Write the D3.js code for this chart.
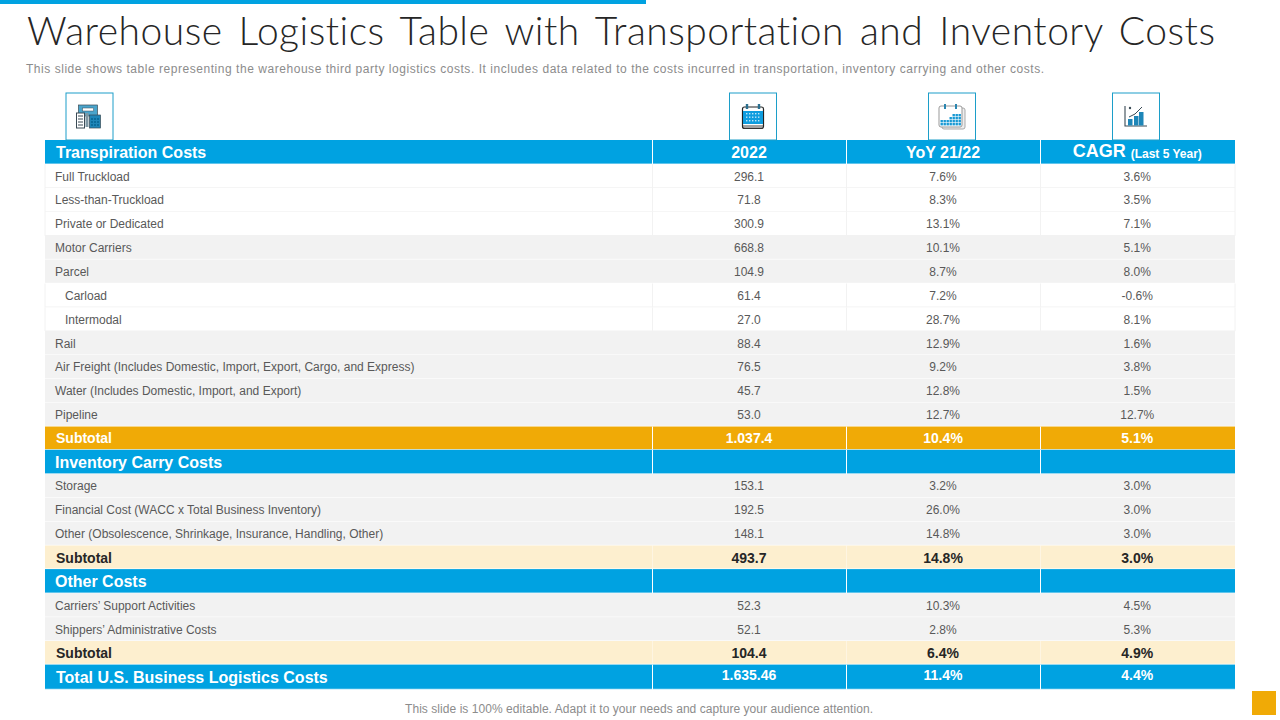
<!DOCTYPE html>
<html>
<head>
<meta charset="utf-8">
<script src="https://cdnjs.cloudflare.com/ajax/libs/d3/7.8.5/d3.min.js"></script>
<style>
  html, body { margin: 0; padding: 0; background: #fff; }
  svg { display: block; }
  text { font-family: "Liberation Sans", Arial, sans-serif; font-variant-ligatures: none; }
</style>
</head>
<body>
<div id="chart"></div>
<script>
// table content, row by row
const rowLabels = ["Transpiration Costs", "Full Truckload", "Less-than-Truckload", "Private or Dedicated", "Motor Carriers", "Parcel", "Carload", "Intermodal", "Rail",
    "Air Freight (Includes Domestic, Import, Export, Cargo, and Express)", "Water (Includes Domestic, Import, and Export)", "Pipeline", "Subtotal",
    "Inventory Carry Costs", "Storage", "Financial Cost (WACC x  Total Business Inventory)", "Other (Obsolescence, Shrinkage, Insurance, Handling, Other)", "Subtotal",
    "Other Costs", "Carriers’ Support Activities", "Shippers’ Administrative Costs", "Subtotal", "Total U.S. Business Logistics Costs"];
const rowTypes = ["head", "white", "white", "white", "grey", "grey", "indent", "indent", "grey", "grey", "grey", "grey", "subMain",
    "head", "grey", "grey", "grey", "sub", "head", "grey", "grey", "sub", "total"];
const values2022 = ["2022", "296.1", "71.8", "300.9", "668.8", "104.9", "61.4", "27.0", "88.4", "76.5", "45.7", "53.0", "1.037.4",
    "", "153.1", "192.5", "148.1", "493.7", "", "52.3", "52.1", "104.4", "1.635.46"];
const valuesYoy = ["YoY 21/22", "7.6%", "8.3%", "13.1%", "10.1%", "8.7%", "7.2%", "28.7%", "12.9%", "9.2%", "12.8%", "12.7%", "10.4%",
    "", "3.2%", "26.0%", "14.8%", "14.8%", "", "10.3%", "2.8%", "6.4%", "11.4%"];
const valuesCagr = ["CAGR", "3.6%", "3.5%", "7.1%", "5.1%", "8.0%", "-0.6%", "8.1%", "1.6%", "3.8%", "1.5%", "12.7%", "5.1%",
    "", "3.0%", "3.0%", "3.0%", "3.0%", "", "4.5%", "5.3%", "4.9%", "4.4%"];

const titleText = "Warehouse Logistics Table with Transportation and Inventory Costs";
const subtitleText = "This slide shows table representing  the warehouse  third  party logistics costs. It includes data related to the costs incurred in transportation,  inventory  carrying and other costs.";
const footerText = "This slide is 100% editable. Adapt it to your  needs and capture your audience attention.";

const BLUE = "#00a2e1", AMBER = "#f0aa06", CREAM = "#fdefcf", GREY = "#f2f2f2", INK = "#595959", DARK = "#262626";

const fills = { head: BLUE, total: BLUE, subMain: AMBER, sub: CREAM, grey: GREY, white: "#fff", indent: "#fff" };
const rowHeights = { head: 24.2, total: 25, subMain: 23.2, sub: 23.6, grey: 23.85, white: 23.85, indent: 23.85 };

const width = 1280, height = 720;
const svg = d3.select("#chart").append("svg").attr("width", width).attr("height", height);

// top accent, corner square
svg.append("rect").attr("width", 646).attr("height", 4).attr("fill", BLUE);
svg.append("rect").attr("x", 1252).attr("y", 691).attr("width", 24).attr("height", 24).attr("fill", AMBER);

svg.append("text").attr("x", 27).attr("y", 45)
    .attr("textLength", 1188).attr("lengthAdjust", "spacing")
    .style("font-family", "Lato").style("font-weight", 300).style("font-size", "39px").style("word-spacing", "5px")
    .attr("fill", DARK).text(titleText);

svg.append("text").attr("x", 26).attr("y", 73)
    .attr("textLength", 1018).attr("lengthAdjust", "spacing")
    .style("font-size", "12px").attr("fill", "#8c8c8c").text(subtitleText);

svg.append("text").attr("x", 639).attr("y", 713).attr("text-anchor", "middle")
    .attr("textLength", 468).attr("lengthAdjust", "spacing")
    .style("font-size", "12px").attr("fill", "#8c8c8c").text(footerText);

// table layout: row tops are summed from the height of each row type
const heights = rowTypes.map(t => rowHeights[t]);
const rowTops = [0].concat(Array.from(d3.cumsum(heights)));
const y = d3.scaleLinear().domain([0, d3.sum(heights)]).range([140, 140 + d3.sum(heights)]);
const columns = [
    { left: 45, right: 652.5 },
    { left: 652.5, right: 846.5, values: values2022 },
    { left: 846.5, right: 1040.5, values: valuesYoy },
    { left: 1040.5, right: 1235, values: valuesCagr }
];

const rows = svg.append("g").selectAll("g").data(rowLabels).enter().append("g")
    .attr("transform", (d, i) => `translate(0,${y(rowTops[i])})`);

rows.append("rect").attr("x", 45).attr("width", 1190).attr("height", (d, i) => heights[i])
    .attr("fill", (d, i) => fills[rowTypes[i]]);

// row separators
const isLight = t => t === "white" || t === "indent";
rows.append("line").attr("x1", 45).attr("x2", 1235).attr("y1", (d, i) => heights[i]).attr("y2", (d, i) => heights[i])
    .attr("stroke", (d, i) => isLight(rowTypes[i]) ? GREY : "#fff")
    .attr("stroke-opacity", (d, i) => isLight(rowTypes[i]) ? 1 : 0.75)
    .attr("stroke-width", 1.5);

// column separators, only visible on coloured and white rows
columns.slice(1).forEach(c => {
    rows.append("line").attr("x1", c.left).attr("x2", c.left).attr("y1", 0).attr("y2", (d, i) => heights[i])
        .attr("stroke", (d, i) => isLight(rowTypes[i]) ? GREY : (rowTypes[i] === "grey" ? "none" : "#fff"))
        .attr("stroke-opacity", (d, i) => rowTypes[i] === "sub" ? 0.4 : 1);
});
[45, 1235].forEach(x => {
    rows.filter((d, i) => isLight(rowTypes[i])).append("line")
        .attr("x1", x).attr("x2", x).attr("y1", 0).attr("y2", (d, i) => heights[i]).attr("stroke", GREY);
});

function textStyle(t, isLabel) {
    if (t === "head") return { size: 16, weight: "bold", fill: "#fff" };
    if (t === "total") return { size: isLabel ? 16 : 14, weight: "bold", fill: "#fff" };
    if (t === "subMain") return { size: 14, weight: "bold", fill: "#fff" };
    if (t === "sub") return { size: 14, weight: "bold", fill: DARK };
    return { size: 12, weight: "normal", fill: INK };
}

// first column labels
rows.append("text")
    .attr("x", (d, i) => {
        const t = rowTypes[i];
        if (t === "indent") return 65;
        return (t === "subMain" || t === "sub" || t === "total" || i === 0) ? 56 : 55;
    })
    .attr("y", (d, i) => heights[i] / 2 + (rowTypes[i] === "head" || rowTypes[i] === "total" ? 0.6 : 0.3)).attr("dy", "0.35em")
    .style("font-size", (d, i) => textStyle(rowTypes[i], true).size + "px")
    .style("font-weight", (d, i) => textStyle(rowTypes[i], true).weight)
    .attr("fill", (d, i) => textStyle(rowTypes[i], true).fill)
    .text(d => d);

// value columns
columns.slice(1).forEach(c => {
    rows.append("text")
        .attr("x", (c.left + c.right) / 2 - 0.5)
        .attr("y", (d, i) => heights[i] / 2 + (rowTypes[i] === "total" ? -1.5 : 0.3))
        .attr("dy", "0.35em").attr("text-anchor", "middle")
        .style("font-size", (d, i) => textStyle(rowTypes[i], false).size + "px")
        .style("font-weight", (d, i) => textStyle(rowTypes[i], false).weight)
        .attr("fill", (d, i) => textStyle(rowTypes[i], false).fill)
        .each(function(d, i) {
            const sel = d3.select(this);
            if (i === 0 && c.values === valuesCagr) {
                sel.attr("y", heights[i] / 2 - 0.5);
                sel.append("tspan").style("font-size", "18px").text(c.values[i]);
                sel.append("tspan").style("font-size", "12px").attr("dx", 5).attr("dy", 1).text("(Last 5 Year)");
            } else {
                sel.text(c.values[i]);
            }
        });
});

// icon boxes over the header
const iconCentres = [89.5, 753, 952, 1136];
const icons = svg.append("g").selectAll("g").data(iconCentres).enter().append("g")
    .attr("transform", d => `translate(${d},116)`);
icons.append("rect").attr("x", -23.5).attr("y", -23).attr("width", 47).attr("height", 47)
    .attr("fill", "#fff").attr("stroke", "#1c9ec9");

const NAVY = "#3a4a55", MID = "#1e86b8";
const g0 = d3.select(icons.nodes()[0]);
g0.append("rect").attr("x", -11).attr("y", -11).attr("width", 19).attr("height", 11).attr("fill", "#4aa5cc").attr("stroke", NAVY).attr("stroke-width", 0.7);
g0.append("rect").attr("x", -7).attr("y", -8).attr("width", 11).attr("height", 3).attr("fill", "#fff").attr("stroke", NAVY).attr("stroke-width", 0.5);
g0.append("rect").attr("x", -13).attr("y", -3).attr("width", 8).attr("height", 15).attr("fill", "#fff").attr("stroke", NAVY);
g0.append("rect").attr("x", -4).attr("y", -3).attr("width", 3).attr("height", 14).attr("fill", "#7f97a3");
g0.append("rect").attr("x", 0).attr("y", -1).attr("width", 11).attr("height", 13).attr("fill", MID).attr("stroke", NAVY).attr("stroke-width", 0.7);
d3.range(4).forEach(k => g0.append("line").attr("x1", -11.5).attr("x2", -6.5).attr("y1", 0 + k * 3).attr("y2", 0 + k * 3).attr("stroke", NAVY));
d3.range(3).forEach(r => d3.range(3).forEach(k => g0.append("rect").attr("x", 1.5 + k * 3).attr("y", 2 + r * 3).attr("width", 2).attr("height", 2).attr("fill", "#0b6d9c")));

const g1 = d3.select(icons.nodes()[1]);
g1.append("rect").attr("x", -10.5).attr("y", -9).attr("width", 21).attr("height", 21.5).attr("rx", 2).attr("fill", "#fff").attr("stroke", "#222").attr("stroke-width", 1.2);
g1.append("rect").attr("x", -10).attr("y", -5).attr("width", 20).attr("height", 13).attr("fill", "#0f9ddf");
[-6, 6].forEach(x => g1.append("line").attr("x1", x).attr("x2", x).attr("y1", -12).attr("y2", -7).attr("stroke", "#2b6f8f").attr("stroke-width", 2.4));
[10, 12].forEach(ly => g1.append("line").attr("x1", -10).attr("x2", 10).attr("y1", ly).attr("y2", ly).attr("stroke", "#444"));
d3.range(3).forEach(r => d3.range(5).forEach(k => g1.append("rect").attr("x", -7 + k * 3).attr("y", -3 + r * 3.5).attr("width", 1.4).attr("height", 1.4).attr("fill", "#bfe6f7")));

const g2 = d3.select(icons.nodes()[2]);
g2.append("rect").attr("x", -10).attr("y", -8).attr("width", 23).attr("height", 21).attr("rx", 2).attr("fill", "#eee").attr("stroke", "#aaa");
g2.append("rect").attr("x", -13).attr("y", -10).attr("width", 23).attr("height", 21).attr("rx", 2).attr("fill", "#fff").attr("stroke", "#999");
[-7, 4].forEach(x => g2.append("line").attr("x1", x).attr("x2", x).attr("y1", -12).attr("y2", -7).attr("stroke", "#2b86b0").attr("stroke-width", 2));
d3.range(4).forEach(r => d3.range(7).forEach(k => {
    if (r > 1 || k > 3 - r) g2.append("rect").attr("x", -11.5 + k * 3).attr("y", -2 + r * 3).attr("width", 2.4).attr("height", 2.4).attr("fill", "#1899d4");
}));

const g3 = d3.select(icons.nodes()[3]);
g3.append("path").attr("d", "M-11,-10V10H11").attr("fill", "none").attr("stroke", NAVY).attr("stroke-width", 1.1);
[[-8, 3], [-2, 0], [3, -4]].forEach(b => {
    g3.append("rect").attr("x", b[0]).attr("y", b[1]).attr("width", 4.5).attr("height", 9.5 - b[1]).attr("fill", MID);
});
g3.append("path").attr("d", "M-7,1L-1,-2L6,-9").attr("fill", "none").attr("stroke", NAVY);
g3.append("circle").attr("cx", -6).attr("cy", -8).attr("r", 1.2).attr("fill", NAVY);
</script>
</body>
</html>
